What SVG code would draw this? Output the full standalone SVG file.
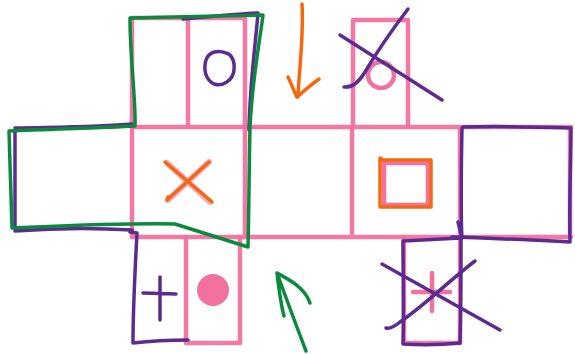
<svg xmlns="http://www.w3.org/2000/svg" width="575" height="354" viewBox="0 0 575 354">
<style>
.pk{fill:none;stroke:#f2719f;stroke-width:4.5;stroke-linecap:round;stroke-linejoin:round;opacity:0.95}
.pu{fill:none;stroke:#5b2b91;stroke-width:3.5;stroke-linecap:round;stroke-linejoin:round}
.gr{fill:none;stroke:#0b8a3e;stroke-width:3.5;stroke-linecap:round;stroke-linejoin:round}
.or{fill:none;stroke:#f4690f;stroke-width:3.5;stroke-linecap:round;stroke-linejoin:round}
</style>
<rect width="575" height="354" fill="#ffffff"/>
<g id="grid">
<path class="pk" d="M132,18 H245 V127 M132,18 V237 M188,18 V127"/>
<path class="pk" d="M353,20 H408 V127 M353,20 V127"/>
<path class="pk" d="M132,127 H571 M132,237 H571 M245,127 V237 M352,127 V237 M460,127 V343 M570,127 V237"/>
<path class="pk" d="M186,237 V343 H240 V237"/>
<path class="pk" d="M404,237 V343 H460"/>
</g>
<g id="cell-top-left">
<path class="pu" d="M183,19 C210,17 235,14 258,13 C256,40 250,80 249,130"/>
</g>
<g id="cell-top-o">
<path class="pu" d="M226,53 C219,50 209,51 206,60 C203,70 206,80 214,84 C223,87 233,80 234,70 C235,60 231,54 226,53 Z"/>
</g>
<g id="cell-top-right">
<circle cx="381" cy="75" r="13" fill="none" stroke="#f2719f" stroke-width="4.5"/>
<path class="pu" d="M340,35 L442,100"/>
<path class="pu" d="M408,9 C392,30 375,55 365,72 C359,82 352,88 344,87"/>
</g>
<g id="cell-left">
<path class="pu" d="M15,128 C60,127 100,127 132,124 M15,131 V228 M15,231 C55,228 100,228 132,230"/>
</g>
<g id="cell-center-x">
<path d="M167,163 L210,202 M209,162 L168,200" fill="none" stroke="#f2719f" stroke-width="6" opacity="0.6" stroke-linecap="round"/>
<path class="or" d="M165,162 L212,202 M209,162 L167,200 L168,197"/>
</g>
<g id="cell-square">
<rect x="384" y="163" width="44" height="42" fill="none" stroke="#f2719f" stroke-width="4.5"/>
<path class="or" d="M380,158 L383,160 H431 V207 H380 Z"/>
</g>
<g id="cell-right">
<path class="pu" d="M463,127 C500,126 540,127 571,128 C571,160 569,200 570,242 C530,240 490,238 452,237 M462,128 C461,170 461,230 462,237"/>
</g>
<g id="cell-bottom-plus">
<path class="pu" d="M130,232 L137,233 C135,270 133,310 133,343 C150,341 170,340 188,340"/>
<path class="pu" d="M160,277 V320 M143,293 L176,294"/>
</g>
<g id="cell-bottom-dot">
<circle cx="213" cy="290" r="16" fill="#f2719f"/>
</g>
<g id="cell-bottom-right">
<path d="M432,273 V311 M413,292 H450" fill="none" stroke="#f2719f" stroke-width="4.5" stroke-linecap="round"/>
<path class="pu" d="M403,241 C420,240 440,239 461,238 C461,270 461,310 460,343 C440,345 420,345 403,344 C404,310 403,270 403,241"/>
<path class="pu" d="M458,222 L462,238"/>
<path class="pu" d="M382,264 L500,330"/>
<path class="pu" d="M475,261 C450,280 425,305 400,322 C394,327 390,329 386,328"/>
</g>
<g id="face-outline">
<path class="gr" d="M130,18 C170,17 220,16 263,15 C260,40 252,80 250,128 C249,170 249,210 248,247 L175,224 C120,223 60,226 12,228 C11,200 10,160 9,131 C50,129 100,128 135,126 C136,100 130,60 130,18 Z"/>
</g>
<g id="connectors">
<path class="or" d="M302,4 C304,35 299,70 298,97 M288,77 C292,85 294,92 297,97 C305,90 312,84 319,79"/>
<path class="gr" d="M306,351 C296,325 285,295 277,273 M277,273 C279,290 281,305 284,316 M277,273 C290,280 305,288 310,303"/>
</g>
</svg>
